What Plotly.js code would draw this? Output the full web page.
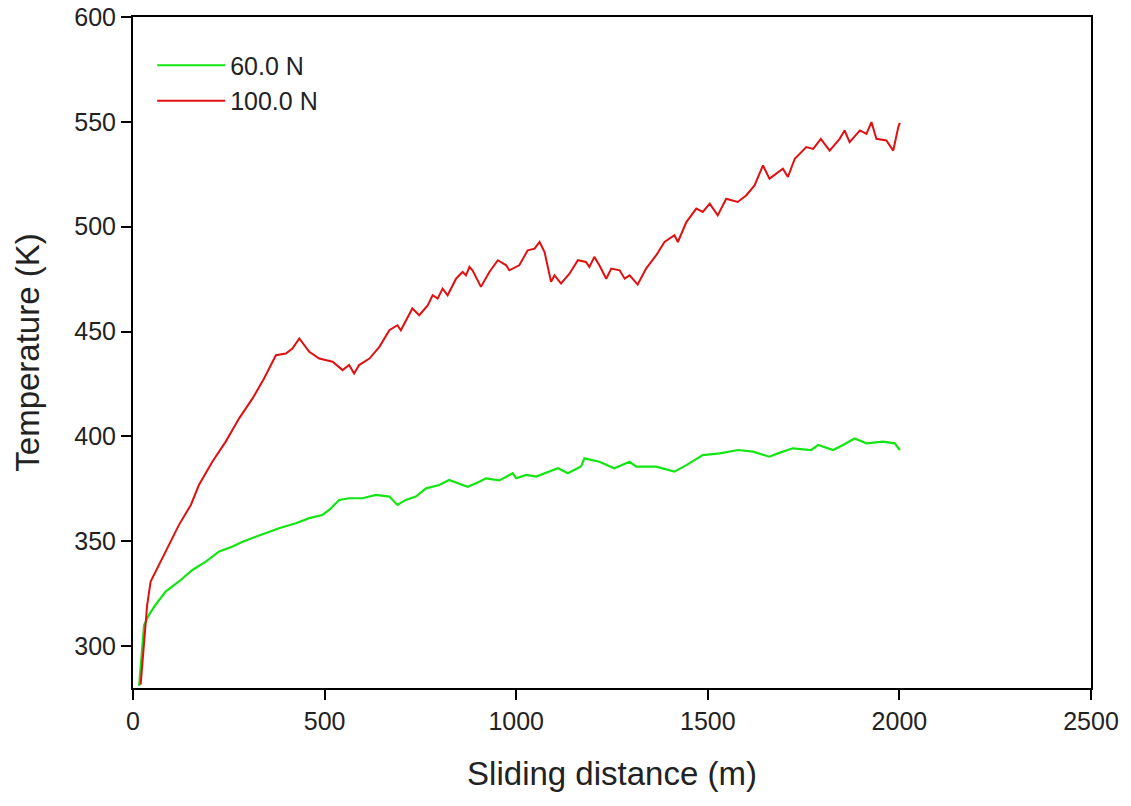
<!DOCTYPE html>
<html>
<head>
<meta charset="utf-8">
<script src="https://cdn.plot.ly/plotly-3.0.1.min.js"></script>
<style>html,body{margin:0;padding:0;background:#fff;}#chart{width:1131px;height:806px;}</style>
</head>
<body>
<div id="chart"></div>
<script>
// 60.0 N series (sliding distance m, temperature K)
const green_x = [16, 23, 29, 42, 59, 85, 120, 155, 190, 225, 260, 286, 320, 347, 381, 425, 460, 494, 512, 538, 564, 599, 634, 669, 690, 712, 738, 765, 799, 825, 852, 873, 904, 921, 956, 991, 1000, 1026, 1052, 1109, 1135, 1169, 1178, 1217, 1256, 1296, 1313, 1365, 1413, 1444, 1487, 1531, 1579, 1618, 1661, 1683, 1722, 1770, 1788, 1827, 1853, 1883, 1914, 1957, 1988, 2001];
const green_y = [281, 296, 310, 315, 319.7, 326, 330.8, 336.3, 340.3, 345.1, 347.5, 349.8, 352.2, 353.8, 356.2, 358.6, 361, 362.5, 364.9, 369.7, 370.5, 370.5, 372.1, 371.3, 367.3, 369.7, 371.3, 375.2, 376.8, 379.2, 377.6, 376, 378.4, 380, 379, 382.4, 380, 381.6, 380.8, 384.8, 382.4, 385.6, 389.5, 387.9, 384.8, 387.9, 385.6, 385.6, 383.2, 386.3, 391.1, 391.9, 393.5, 392.7, 390.3, 391.9, 394.3, 393.5, 395.9, 393.5, 395.9, 399, 396.7, 397.5, 396.7, 393.5];

// 100.0 N series
const red_x = [20, 29, 37, 46, 68, 94, 120, 151, 172, 207, 242, 277, 312, 342, 373, 399, 416, 434, 460, 486, 521, 547, 564, 577, 590, 617, 643, 669, 690, 699, 729, 747, 769, 782, 795, 808, 821, 843, 860, 869, 878, 886, 908, 930, 952, 974, 982, 1008, 1030, 1048, 1061, 1074, 1091, 1100, 1117, 1139, 1161, 1182, 1191, 1204, 1217, 1235, 1248, 1270, 1283, 1296, 1317, 1339, 1365, 1387, 1413, 1422, 1444, 1470, 1487, 1505, 1526, 1548, 1578, 1600, 1622, 1644, 1661, 1696, 1709, 1727, 1757, 1775, 1795, 1818, 1844, 1857, 1870, 1897, 1914, 1927, 1940, 1966, 1984, 1997, 2001];
const red_y = [281.6, 300.6, 319.7, 330.8, 338.7, 348.2, 357.8, 367.3, 376.8, 387.9, 397.5, 408.6, 418.1, 427.6, 438.7, 439.5, 441.9, 446.7, 440.3, 437.1, 435.6, 431.6, 434, 430, 434, 437.1, 442.7, 450.6, 453, 450.6, 461, 457.8, 462.5, 467.3, 465.7, 470.5, 467.3, 475.2, 478.4, 476.8, 480.8, 479.2, 471.3, 478.4, 484, 481.6, 479.2, 481.6, 488.7, 489.5, 492.7, 487.9, 473.7, 476.8, 472.9, 477.6, 484, 483.2, 480.8, 485.6, 481.6, 475.2, 480, 479.2, 475.2, 476.8, 472.4, 480, 486.3, 492.7, 495.9, 492.7, 502.2, 508.6, 507, 511, 505.4, 513.3, 511.8, 514.9, 519.7, 529.2, 522.9, 527.6, 523.7, 532.4, 538, 537.1, 541.9, 536.3, 541.9, 545.9, 540.3, 545.9, 544.3, 549.9, 541.9, 541.1, 536.3, 547.4, 549.5];

const seriesNames = ['60.0 N', '100.0 N'];
const xTicks = [0, 500, 1000, 1500, 2000, 2500];
const yTicks = [300, 350, 400, 450, 500, 550, 600];

const FONT = 'Arial, "Liberation Sans", sans-serif';

const traces = [
  {x: green_x, y: green_y, name: seriesNames[0], mode: 'lines', type: 'scatter',
   line: {color: '#11e611', width: 2.2}},
  {x: red_x, y: red_y, name: seriesNames[1], mode: 'lines', type: 'scatter',
   line: {color: '#e01010', width: 2}}
];

const axisCommon = {
  showgrid: false, zeroline: false, showline: true, linecolor: '#000', linewidth: 2,
  mirror: true, ticks: 'outside', ticklen: 10, tickwidth: 2, tickcolor: '#000',
  tickfont: {family: FONT, size: 25, color: '#222'}
};

const layout = {
  width: 1131, height: 806,
  margin: {l: 133, r: 40, t: 17, b: 118},
  paper_bgcolor: '#fff', plot_bgcolor: '#fff',
  font: {family: FONT, color: '#222'},
  showlegend: true,
  legend: {x: 0.02, y: 0.962, xanchor: 'left', yanchor: 'top', bgcolor: 'rgba(0,0,0,0)',
    font: {family: FONT, size: 25, color: '#222'}, itemwidth: 68, tracegroupgap: 0},
  xaxis: Object.assign({}, axisCommon, {
    range: [0, 2500], tickvals: xTicks, ticktext: xTicks.map(String),
    title: {text: 'Sliding distance (m)', font: {family: FONT, size: 33, color: '#222'}, standoff: 28}
  }),
  yaxis: Object.assign({}, axisCommon, {
    range: [280, 600], tickvals: yTicks, ticktext: yTicks.map(String),
    title: {text: 'Temperature (K)', font: {family: FONT, size: 33, color: '#222'}, standoff: 25}
  })
};

Plotly.newPlot('chart', traces, layout, {displayModeBar: false, staticPlot: true});
</script>
</body>
</html>
